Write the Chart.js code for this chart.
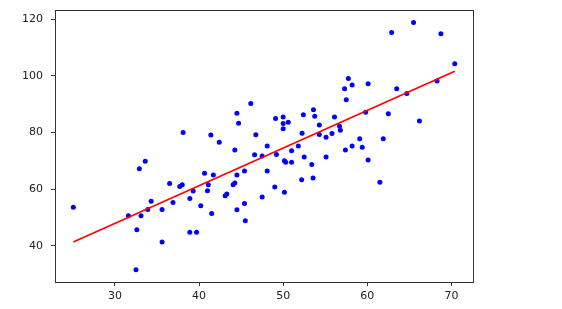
<!DOCTYPE html>
<html>
<head>
<meta charset="utf-8">
<script src="https://cdn.jsdelivr.net/npm/chart.js@4"></script>
<style>
  body { margin: 0; background: #fff; }
</style>
</head>
<body>
<canvas id="scatter" width="562" height="309"></canvas>
<script>
// points
const xs = [25.05, 31.6, 32.6, 32.5, 32.9, 33.1, 33.6, 33.9, 34.3, 35.6,
  35.6, 36.5, 36.9, 37.7, 38.0, 38.1, 38.9, 38.9, 39.3, 39.7,
  40.2, 40.65, 41.1, 41.0, 41.4, 41.5, 41.7, 42.4, 43.1, 43.3,
  44.05, 44.25, 44.25, 44.5, 44.5, 44.5, 44.7, 45.4, 45.4, 45.5,
  46.15, 46.6, 46.75, 47.5, 47.5, 48.1, 48.1, 49.0, 49.1, 49.2,
  50.0, 50.0, 50.0, 50.15, 50.15, 50.3, 50.6, 51.0, 51.0, 51.8,
  52.2, 52.25, 52.4, 52.5, 53.4, 53.55, 53.6, 53.75, 54.3, 54.3,
  55.1, 55.1, 55.8, 56.1, 56.7, 56.8, 57.3, 57.4, 57.5, 57.75,
  58.2, 58.2, 59.1, 59.4, 59.8, 60.1, 60.1, 61.5, 61.9, 62.5,
  62.9, 63.5, 64.7, 65.5, 66.2, 68.3, 68.75, 70.4];
const ys = [53.6, 50.6, 45.6, 31.5, 67.2, 50.6, 69.8, 52.8, 55.7, 52.8,
  41.3, 62.0, 55.3, 60.9, 61.5, 80.0, 56.7, 44.8, 59.3, 44.8,
  54.1, 65.6, 61.5, 59.4, 79.1, 51.4, 65.0, 76.5, 57.6, 58.3,
  61.5, 62.1, 73.8, 86.8, 65.0, 52.7, 83.2, 66.4, 54.9, 48.8,
  90.2, 72.1, 79.2, 71.7, 57.2, 75.2, 66.4, 60.7, 84.9, 72.2,
  85.4, 83.1, 81.3, 70.0, 58.9, 69.5, 83.6, 69.5, 73.5, 75.2,
  63.3, 79.7, 86.2, 71.3, 68.7, 63.9, 88.0, 85.7, 82.6, 79.3,
  78.3, 71.3, 79.6, 85.4, 82.2, 80.8, 95.4, 73.8, 91.5, 99.0,
  96.7, 75.2, 77.8, 74.8, 87.1, 97.2, 70.3, 62.4, 77.8, 86.6,
  115.3, 95.4, 93.7, 118.8, 84.05, 98.15, 114.8, 104.25];

// fitted line ends
const fitX = [25.05, 70.4];
const fitY = [41.3, 101.6];

const xTicks = [30, 40, 50, 60, 70];
const yTicks = [40, 60, 80, 100, 120];

const frame = {
  id: 'frame',
  afterDraw(chart) {
    const { ctx, chartArea: a } = chart;
    ctx.save();
    ctx.strokeStyle = '#333';
    ctx.lineWidth = 1;
    ctx.strokeRect(Math.round(a.left) + 0.5, Math.round(a.top) + 0.5,
      Math.round(a.right - a.left), Math.round(a.bottom - a.top));
    ctx.restore();
  }
};

const tickFont = { family: 'DejaVu Sans', size: 11 };

new Chart('scatter', {
  type: 'scatter',
  data: {
    datasets: [
      {
        type: 'line',
        data: fitX.map((x, i) => ({ x: x, y: fitY[i] })),
        borderColor: '#ff0000',
        borderWidth: 1.6,
        pointRadius: 0,
        fill: false,
        order: 0,
      },
      {
        data: xs.map((x, i) => ({ x: x, y: ys[i] })),
        backgroundColor: '#0000ff',
        borderWidth: 0,
        pointRadius: 2.5,
        order: 1,
      },
    ],
  },
  options: {
    responsive: false,
    animation: false,
    layout: { padding: { top: 10, right: 89, left: 0, bottom: 0 } },
    plugins: { legend: { display: false }, tooltip: { enabled: false } },
    scales: {
      x: {
        type: 'linear',
        min: 22.87,
        max: 72.57,
        afterBuildTicks: s => { s.ticks = xTicks.map(v => ({ value: v })); },
        afterFit: s => { s.height = 27; s.paddingLeft = 0; s.paddingRight = 0; },
        grid: { drawOnChartArea: false, tickLength: 4, tickColor: '#333' },
        border: { color: '#333' },
        ticks: { font: tickFont, color: '#222', padding: 4, maxRotation: 0 },
      },
      y: {
        type: 'linear',
        min: 27.2,
        max: 123.2,
        afterBuildTicks: s => { s.ticks = yTicks.map(v => ({ value: v })); },
        afterFit: s => { s.width = 55; s.paddingTop = 0; s.paddingBottom = 0; },
        grid: { drawOnChartArea: false, tickLength: 4, tickColor: '#333' },
        border: { color: '#333' },
        ticks: { font: tickFont, color: '#222', padding: 8 },
      },
    },
  },
  plugins: [frame],
});
</script>
</body>
</html>
